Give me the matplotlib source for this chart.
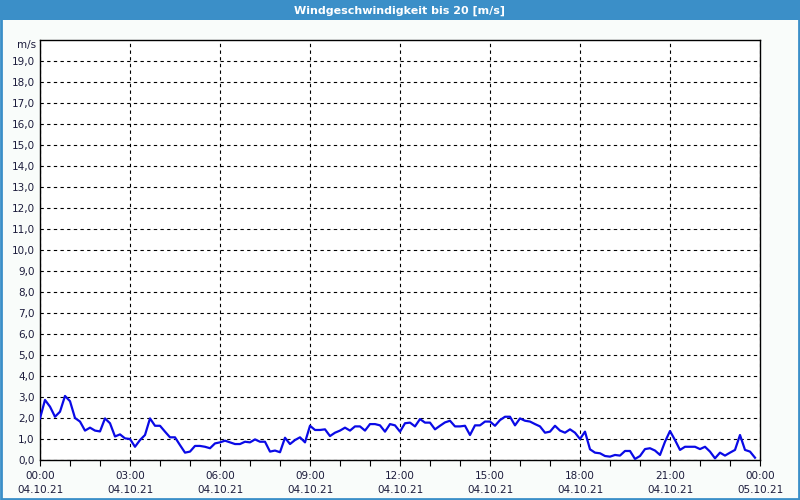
import matplotlib
matplotlib.use("Agg")
import matplotlib.pyplot as plt
from matplotlib.patches import Rectangle

# wind speed in m/s, one value every 10 minutes from 04.10.21 00:00
speed = [1.98, 2.86, 2.54, 2.06, 2.30, 3.05, 2.80, 2.00, 1.83, 1.40,
         1.54, 1.40, 1.36, 1.98, 1.75, 1.12, 1.22, 1.03, 1.00, 0.63,
         0.95, 1.19, 1.98, 1.63, 1.63, 1.35, 1.08, 1.08, 0.71, 0.35,
         0.40, 0.67, 0.67, 0.63, 0.56, 0.79, 0.84, 0.92, 0.84, 0.76,
         0.76, 0.87, 0.84, 0.98, 0.87, 0.87, 0.40, 0.45, 0.37, 1.06,
         0.76, 0.95, 1.08, 0.84, 1.63, 1.43, 1.43, 1.46, 1.14, 1.30,
         1.40, 1.54, 1.40, 1.60, 1.60, 1.40, 1.71, 1.71, 1.65, 1.35,
         1.71, 1.65, 1.35, 1.75, 1.78, 1.60, 1.95, 1.78, 1.78, 1.46,
         1.63, 1.79, 1.87, 1.60, 1.60, 1.63, 1.19, 1.65, 1.65, 1.83,
         1.83, 1.63, 1.90, 2.06, 2.06, 1.65, 1.98, 1.87, 1.83, 1.71,
         1.60, 1.30, 1.35, 1.63, 1.40, 1.30, 1.46, 1.30, 1.00, 1.35,
         0.51, 0.35, 0.32, 0.19, 0.16, 0.24, 0.21, 0.43, 0.43, 0.05,
         0.19, 0.52, 0.56, 0.45, 0.24, 0.87, 1.38, 0.95, 0.48, 0.63,
         0.63, 0.63, 0.52, 0.63, 0.40, 0.08, 0.35, 0.21, 0.35, 0.48,
         1.19, 0.48, 0.40, 0.11]
hours = [i / 6 for i in range(len(speed))]

xticks = [0, 3, 6, 9, 12, 15, 18, 21, 24]
xlabels = ["00:00\n04.10.21", "03:00\n04.10.21", "06:00\n04.10.21",
           "09:00\n04.10.21", "12:00\n04.10.21", "15:00\n04.10.21",
           "18:00\n04.10.21", "21:00\n04.10.21", "00:00\n05.10.21"]
yticks = list(range(0, 20))
ylabels = ["%d,0" % v for v in yticks]

title = "Windgeschwindigkeit bis 20 [m/s]"
blue = "#3b8fc8"
txt = "#1c1c3c"

fig = plt.figure(figsize=(8, 5), dpi=100, facecolor="#f9fcfa")

# title bar and frame
fig.patches.append(Rectangle((0, 0.96), 1, 0.04, transform=fig.transFigure,
                             facecolor=blue, edgecolor="none", zorder=0))
fig.patches.append(Rectangle((0.001, 0.002), 0.998, 0.996, transform=fig.transFigure,
                             facecolor="none", edgecolor=blue, lw=2, zorder=1))
fig.text(0.5, 0.979, title, ha="center", va="center", color="white",
         fontsize=8, fontweight="bold", family="DejaVu Sans")

ax = fig.add_axes([0.05, 0.08, 0.90, 0.84])
ax.set_facecolor("white")
ax.plot(hours, speed, color="#0a0ae6", lw=1.6, zorder=3)

ax.set_xlim(0, 24)
ax.set_ylim(0, 20)
ax.set_xticks(xticks)
ax.set_xticklabels(xlabels, fontsize=7.5, color=txt, linespacing=1.45)
ax.set_xticks(range(25), minor=True)
ax.set_yticks(yticks)
ax.set_yticklabels(ylabels, fontsize=7.5, color=txt)
ax.tick_params(axis="x", which="both", length=4, direction="out", width=0.8, pad=4)
ax.tick_params(axis="y", length=0, pad=4)
ax.grid(True, color="black", ls=(0, (3, 3)), lw=0.8)
for s in ax.spines.values():
    s.set_color("black")
    s.set_linewidth(1)

ax.text(-0.005, 19.75, "m/s", transform=ax.get_yaxis_transform(), ha="right",
        va="center", fontsize=7.5, color=txt)

fig.savefig("out.png", dpi=100, facecolor=fig.get_facecolor())
